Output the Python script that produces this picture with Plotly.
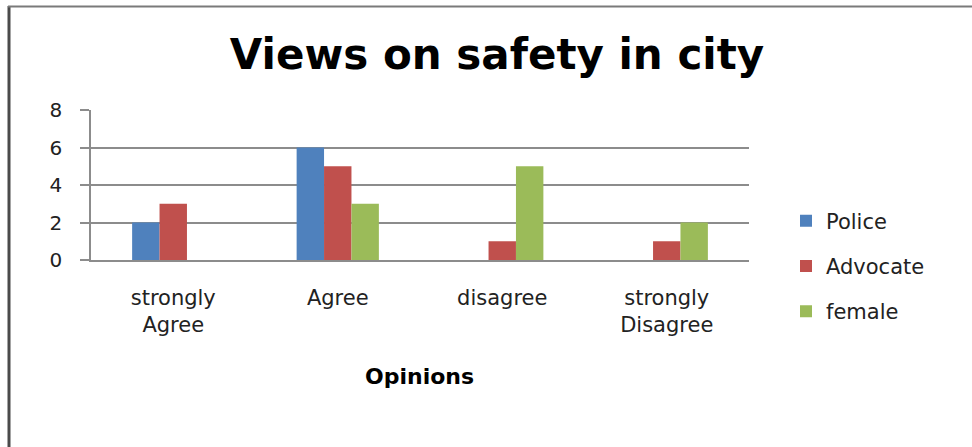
import plotly.graph_objects as go

# Survey responses by opinion category
categories = ["strongly<br>Agree", "Agree", "disagree", "strongly<br>Disagree"]
police = [2, 6, 0, 0]
advocate = [3, 5, 1, 1]
female = [0, 3, 5, 2]
y_ticks = [0, 2, 4, 6, 8]

series = [
    ("Police", police, "#4F81BD"),
    ("Advocate", advocate, "#C0504D"),
    ("female", female, "#9BBB59"),
]

W, H = 972, 447
L, R, T, B = 91, 223, 110, 187
PW, PH = W - L - R, H - T - B


def px_x(p):
    return (p - L) / PW


def px_y(p):
    return (H - B - p) / PH


FONT = "DejaVu Sans"

fig = go.Figure()
for name, vals, color in series:
    fig.add_trace(go.Bar(
        x=categories, y=vals, name=name, legendgroup=name,
        marker=dict(color=color, line=dict(width=0)),
    ))

fig.update_layout(
    width=W, height=H,
    margin=dict(l=L, r=R, t=T, b=B, pad=0),
    paper_bgcolor="white", plot_bgcolor="white",
    barmode="group", bargap=0.5, bargroupgap=0,
    font=dict(family=FONT, color="#222222", size=20),
    title=dict(
        text="<b>Views on safety in city</b>",
        font=dict(family=FONT, size=42, color="#000000"),
        xref="container", yref="container",
        x=497 / W, xanchor="center",
        y=1 - 54 / H, yanchor="middle",
    ),
    legend=dict(
        x=px_x(786), xanchor="left",
        y=px_y(266), yanchor="middle",
        font=dict(family=FONT, size=21, color="#222222"),
        tracegroupgap=15, traceorder="grouped",
        bgcolor="rgba(0,0,0,0)",
    ),
    xaxis=dict(
        showgrid=False, showline=True, linecolor="#8c8c8c", linewidth=1.5,
        ticks="", tickfont=dict(family=FONT, size=21, color="#222222"),
        ticklabelstandoff=18,
    ),
    yaxis=dict(
        range=[0, 8], tickvals=y_ticks,
        showgrid=True, gridcolor="#8c8c8c", gridwidth=1.5,
        showline=True, linecolor="#8c8c8c", linewidth=1.5,
        ticks="outside", ticklen=9, tickcolor="#8c8c8c", tickwidth=1.5,
        tickfont=dict(family=FONT, size=20, color="#222222"),
        ticklabelstandoff=14, zeroline=False,
    ),
    annotations=[dict(
        text="<b>Opinions</b>", xref="paper", yref="paper",
        x=px_x(419), y=px_y(376), xanchor="center", yanchor="middle",
        showarrow=False, font=dict(family=FONT, size=22, color="#000000"),
    )],
    shapes=[
        dict(type="line", xref="paper", yref="paper",
             x0=px_x(9), x1=px_x(9), y0=px_y(6), y1=px_y(H + 2),
             line=dict(color="#4a4a4a", width=3)),
        dict(type="line", xref="paper", yref="paper",
             x0=px_x(8), x1=px_x(W + 2), y0=px_y(6.5), y1=px_y(6.5),
             line=dict(color="#7a7a7a", width=2)),
    ],
)

fig.write_html("out.html")
